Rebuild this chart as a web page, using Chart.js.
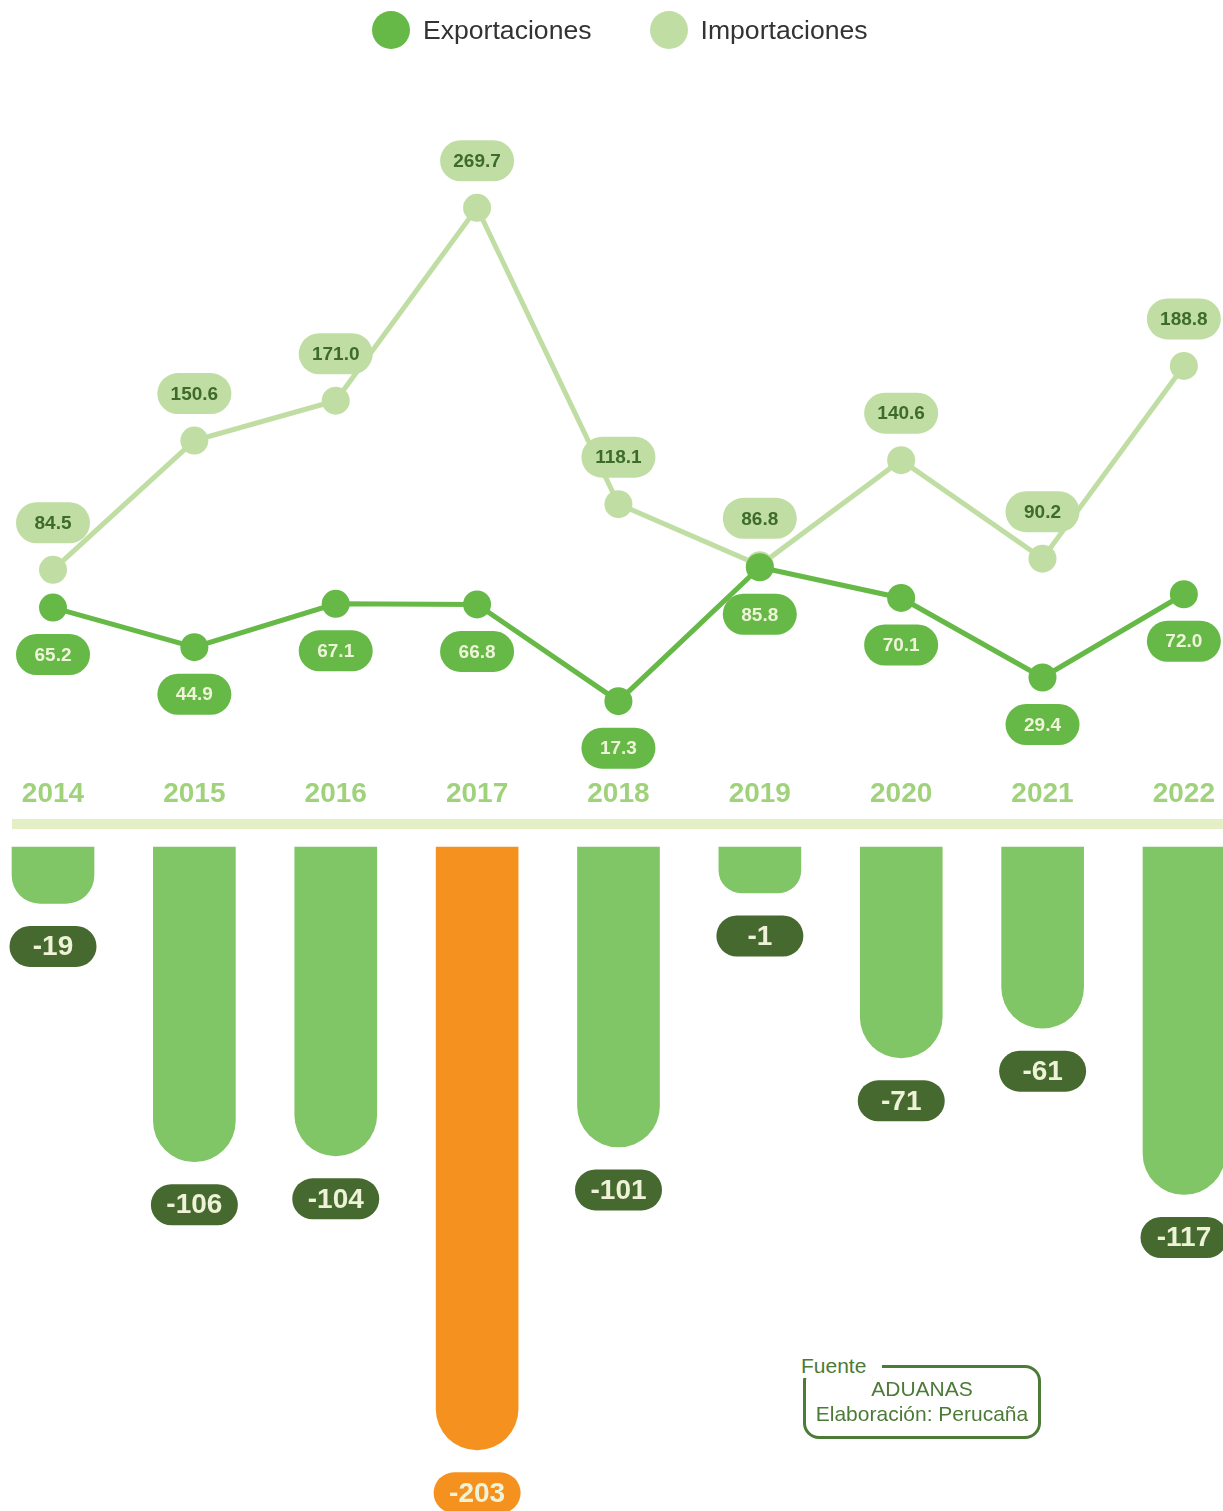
<!DOCTYPE html>
<html lang="es">
<head>
<meta charset="utf-8">
<title>Exportaciones e Importaciones 2014-2022</title>
<script src="https://cdn.jsdelivr.net/npm/chart.js@4.4.1/dist/chart.umd.min.js"></script>
<style>
    body {
        margin: 0;
        background: #ffffff;
        font-family: "Liberation Sans", Arial, sans-serif;
    }
    .page {
        position: relative;
        width: 1223px;
        height: 1511px;
        overflow: hidden;
    }
    .legend {
        position: absolute;
        top: 11px;
        left: 372px;
        display: flex;
        align-items: center;
        z-index: 2;
    }
    .legend .item {
        display: flex;
        align-items: center;
        margin-right: 58px;
    }
    .legend .dot {
        width: 38px;
        height: 38px;
        border-radius: 50%;
        margin-right: 13px;
    }
    .legend .label {
        font-size: 26.6px;
        line-height: 38px;
        color: #333333;
    }
    #lineChart {
        position: absolute;
        top: 0;
        left: 0;
    }
    #barChart {
        position: absolute;
        top: 840px;
        left: 0;
    }
    .fuente {
        position: absolute;
        left: 803px;
        top: 1365px;
        width: 238px;
        height: 74px;
        box-sizing: border-box;
        border: 3px solid #4c7a37;
        border-radius: 16px;
        color: #4c7a37;
        font-size: 21px;
        text-align: center;
    }
    .fuente .title {
        position: absolute;
        left: -10px;
        top: -14px;
        background: #ffffff;
        padding: 0 16px 0 5px;
        line-height: 24px;
    }
    .fuente .body {
        padding-top: 8px;
        line-height: 25px;
    }
</style>
</head>
<body>
<div class="page">
    <div class="legend">
        <div class="item"><span class="dot" style="background:#66b947"></span><span class="label">Exportaciones</span></div>
        <div class="item"><span class="dot" style="background:#c0dea4"></span><span class="label">Importaciones</span></div>
    </div>
    <canvas id="lineChart" width="1223" height="840"></canvas>
    <canvas id="barChart" width="1223" height="671"></canvas>
    <div class="fuente">
        <span class="title">Fuente</span>
        <div class="body">ADUANAS<br>Elaboración: Perucaña</div>
    </div>
</div>

<script>
// Data (millones US$)
const years = ['2014', '2015', '2016', '2017', '2018', '2019', '2020', '2021', '2022'];
const exportaciones = [65.2, 44.9, 67.1, 66.8, 17.3, 85.8, 70.1, 29.4, 72.0];
const importaciones = [84.5, 150.6, 171.0, 269.7, 118.1, 86.8, 140.6, 90.2, 188.8];
const balanza = [-19, -106, -104, -203, -101, -1, -71, -61, -117];

const FONT = '"Liberation Sans", Arial, sans-serif';
const GREEN = '#66b947';
const LIGHT_GREEN = '#c0dea4';
const BAR_GREEN = '#80c566';
const DARK_GREEN = '#46692f';
const ORANGE = '#f5921f';

let charts = {};

// Rounded "pill" label behind a value
function drawPill(ctx, cx, cy, w, h, bg, color, text, fontSize) {
    const r = h / 2;
    ctx.save();
    ctx.beginPath();
    ctx.moveTo(cx - w / 2 + r, cy - r);
    ctx.lineTo(cx + w / 2 - r, cy - r);
    ctx.arc(cx + w / 2 - r, cy, r, -Math.PI / 2, Math.PI / 2);
    ctx.lineTo(cx - w / 2 + r, cy + r);
    ctx.arc(cx - w / 2 + r, cy, r, Math.PI / 2, Math.PI * 1.5);
    ctx.closePath();
    ctx.fillStyle = bg;
    ctx.fill();
    ctx.fillStyle = color;
    ctx.font = 'bold ' + fontSize + 'px ' + FONT;
    ctx.textAlign = 'center';
    ctx.textBaseline = 'middle';
    ctx.fillText(text, cx, cy + 1);
    ctx.restore();
}

const lineLabels = {
    id: 'lineLabels',
    afterDatasetsDraw(chart) {
        const ctx = chart.ctx;
        chart.data.datasets.forEach((ds, i) => {
            const meta = chart.getDatasetMeta(i);
            meta.data.forEach((pt, j) => {
                const y = ds.labelSide === 'above' ? pt.y - 47 : pt.y + 47;
                drawPill(ctx, pt.x, y, 74, 41, ds.pillColor, ds.pillText, ds.data[j].toFixed(1), 19);
            });
        });
    },
    afterDraw(chart) {
        // light band under the year labels
        const ctx = chart.ctx;
        ctx.save();
        ctx.fillStyle = '#e5efc6';
        ctx.fillRect(12, 819, chart.width - 12, 10);
        ctx.restore();
    }
};

const barLabels = {
    id: 'barLabels',
    afterDatasetsDraw(chart) {
        const ctx = chart.ctx;
        const ds = chart.data.datasets[0];
        const meta = chart.getDatasetMeta(0);
        const lowest = Math.min(...ds.data);
        meta.data.forEach((bar, j) => {
            const bg = ds.data[j] === lowest ? ORANGE : DARK_GREEN;
            drawPill(ctx, bar.x, bar.y + 43, 87, 41, bg, '#eef2d6', String(ds.data[j]), 28);
        });
    }
};

function initializeCharts() {
    Chart.defaults.font.family = FONT;

    // Export / import lines
    const ctxLine = document.getElementById('lineChart').getContext('2d');
    charts.lineChart = new Chart(ctxLine, {
        type: 'line',
        data: {
            labels: years,
            datasets: [{
                label: 'Exportaciones',
                data: exportaciones,
                borderColor: GREEN,
                backgroundColor: GREEN,
                borderWidth: 5,
                pointRadius: 14,
                pointBorderWidth: 0,
                pointBackgroundColor: GREEN,
                tension: 0,
                clip: false,
                labelSide: 'below',
                pillColor: GREEN,
                pillText: '#eef4d8'
            }, {
                label: 'Importaciones',
                data: importaciones,
                borderColor: LIGHT_GREEN,
                backgroundColor: LIGHT_GREEN,
                borderWidth: 5,
                pointRadius: 14,
                pointBorderWidth: 0,
                pointBackgroundColor: LIGHT_GREEN,
                tension: 0,
                clip: false,
                labelSide: 'above',
                pillColor: LIGHT_GREEN,
                pillText: '#3e6b2c'
            }]
        },
        options: {
            responsive: false,
            animation: false,
            layout: { padding: { top: 60, left: 53, right: 39, bottom: 21.2 } },
            plugins: {
                legend: { display: false },
                tooltip: { enabled: false }
            },
            scales: {
                x: {
                    offset: false,
                    grid: { display: false, drawTicks: false },
                    border: { display: false },
                    ticks: {
                        padding: 8,
                        color: '#a0d27c',
                        font: { size: 28, weight: 'bold' }
                    }
                },
                y: {
                    display: false,
                    min: -17.5,
                    max: 345.3
                }
            }
        },
        plugins: [lineLabels]
    });

    // Trade balance bars
    const lowest = Math.min(...balanza);
    const ctxBar = document.getElementById('barChart').getContext('2d');
    charts.barChart = new Chart(ctxBar, {
        type: 'bar',
        data: {
            labels: years,
            datasets: [{
                label: 'Balanza',
                data: balanza,
                backgroundColor: balanza.map(v => v === lowest ? ORANGE : BAR_GREEN),
                barThickness: 82,
                borderRadius: 41,
                borderSkipped: 'start',
                minBarLength: 46,
                clip: false
            }]
        },
        options: {
            responsive: false,
            animation: false,
            layout: { padding: { top: 0, left: 53, right: 39, bottom: 0 } },
            plugins: {
                legend: { display: false },
                tooltip: { enabled: false }
            },
            scales: {
                x: { display: false, offset: false },
                y: { display: false, min: -223.6, max: 2.36 }
            }
        },
        plugins: [barLabels]
    });
}

document.addEventListener('DOMContentLoaded', initializeCharts);
</script>
</body>
</html>
